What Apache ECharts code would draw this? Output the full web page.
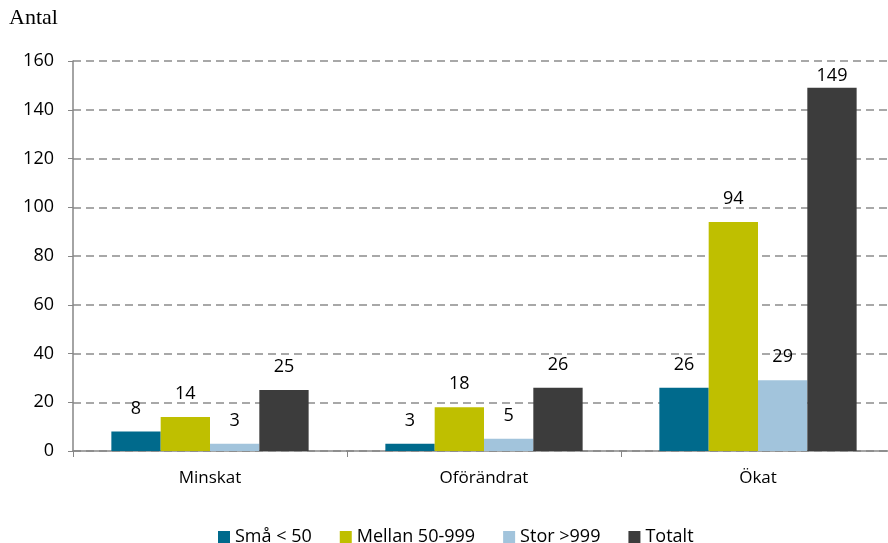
<!DOCTYPE html>
<html><head><meta charset="utf-8">
<script src="https://cdn.jsdelivr.net/npm/echarts@6/dist/echarts.min.js"></script>
<style>html,body{margin:0;padding:0;background:#fff}#c{width:888px;height:543px}</style>
</head><body><div id="c"></div>
<script>
const categories = ['Minskat', 'Oförändrat', 'Ökat'];
const seriesNames = ['Små < 50', 'Mellan 50-999', 'Stor >999', 'Totalt'];
const smaValues = [8, 3, 26];
const mellanValues = [14, 18, 94];
const storValues = [3, 5, 29];
const totaltValues = [25, 26, 149];
const yTicks = [0, 20, 40, 60, 80, 100, 120, 140, 160];

const colors = ['#006A8C', '#BFBF00', '#A2C4DC', '#3C3C3C'];
const values = [smaValues, mellanValues, storValues, totaltValues];
const font = '"Open Sans", "Noto Sans", sans-serif';
const yMax = yTicks[yTicks.length - 1];

const chart = echarts.init(document.getElementById('c'), null, {renderer: 'canvas'});
chart.setOption({
  animation: false,
  textStyle: {fontFamily: font},
  grid: {left: 73, width: 822, top: 61, height: 390, containLabel: false, outerBoundsMode: 'none'},
  legend: {
    top: 523, left: 213,
    data: seriesNames,
    icon: 'rect', itemWidth: 12, itemHeight: 12, itemGap: 28,
    textStyle: {fontFamily: font, fontSize: 18, color: '#000'}
  },
  graphic: [{type: 'text', left: 9, top: 7, style: {text: 'Antal', font: '22px "Liberation Serif", serif', fill: '#000'}}],
  xAxis: {
    type: 'category', data: categories,
    axisLine: {lineStyle: {color: '#868686', width: 1.5}},
    axisTick: {show: true, length: 6, lineStyle: {color: '#868686'}},
    axisLabel: {fontSize: 17, color: '#000', margin: 19, fontFamily: font}
  },
  yAxis: {
    type: 'value', min: yTicks[0], max: yMax, interval: 20,
    axisLine: {show: true, lineStyle: {color: '#868686', width: 1.5}},
    axisTick: {show: true, length: 5, lineStyle: {color: '#868686'}},
    axisLabel: {fontSize: 18, color: '#000', margin: 19, fontFamily: font},
    splitLine: {lineStyle: {color: '#8c8c8c', type: [8, 5], width: 1.5}}
  },
  series: seriesNames.map((n, i) => ({
    name: n, type: 'bar',
    data: values[i].map(v => v > yMax - 15 ? {value: v, label: {distance: 3}} : v),
    barGap: '0%', barCategoryGap: '28%',
    itemStyle: {color: colors[i]},
    label: {show: true, position: 'top', distance: 14, fontSize: 18, color: '#000', fontFamily: font}
  }))
});
</script></body></html>
